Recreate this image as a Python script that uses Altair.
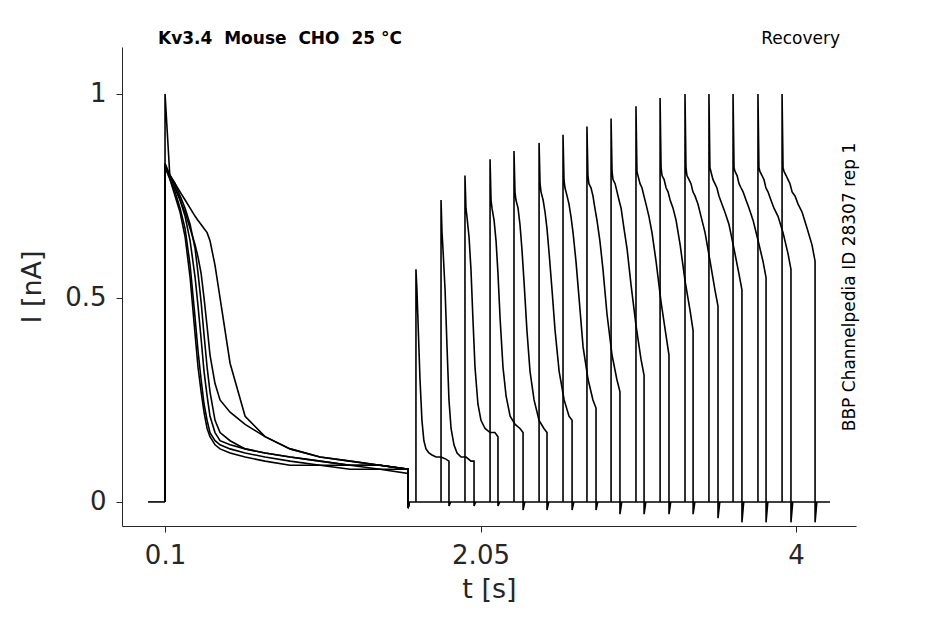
import pandas as pd
import altair as alt

# time of the first-pulse sample points (s)
first_t = [0.100, 0.131, 0.162, 0.193, 0.224, 0.255, 0.286, 0.304, 0.323, 0.341, 0.360,
           0.378, 0.409, 0.440, 0.502, 0.595, 0.718, 0.873, 1.058, 1.244, 1.429, 1.602]
first_traces = [
    [1.00, 0.79, 0.76, 0.72, 0.67, 0.58, 0.45, 0.37, 0.30, 0.24, 0.20, 0.17, 0.15, 0.14, 0.13, 0.12, 0.11, 0.10, 0.09, 0.09, 0.08, 0.08],
    [0.82, 0.80, 0.77, 0.74, 0.70, 0.64, 0.55, 0.48, 0.40, 0.32, 0.26, 0.21, 0.17, 0.15, 0.14, 0.13, 0.12, 0.11, 0.10, 0.09, 0.09, 0.08],
    [0.83, 0.80, 0.78, 0.75, 0.72, 0.68, 0.62, 0.56, 0.49, 0.41, 0.33, 0.27, 0.20, 0.17, 0.15, 0.13, 0.12, 0.11, 0.10, 0.09, 0.09, 0.08],
    [0.82, 0.79, 0.75, 0.71, 0.65, 0.55, 0.41, 0.33, 0.27, 0.22, 0.18, 0.16, 0.14, 0.13, 0.12, 0.11, 0.10, 0.09, 0.09, 0.08, 0.08, 0.07],
    [0.82, 0.80, 0.78, 0.76, 0.74, 0.72, 0.70, 0.69, 0.68, 0.67, 0.66, 0.64, 0.58, 0.50, 0.34, 0.21, 0.16, 0.13, 0.11, 0.10, 0.09, 0.08],
    [0.82, 0.80, 0.77, 0.74, 0.71, 0.67, 0.63, 0.60, 0.56, 0.50, 0.43, 0.36, 0.29, 0.25, 0.22, 0.19, 0.16, 0.13, 0.11, 0.10, 0.09, 0.08],
]

# second pulses: start time, peak, decay values at fixed offsets, end dip
second_start = [1.651, 1.806, 1.954, 2.109, 2.257, 2.412, 2.560, 2.708,
                2.857, 3.011, 3.160, 3.314, 3.462, 3.611, 3.765, 3.914]
second_peak = [0.57, 0.74, 0.80, 0.84, 0.86, 0.88, 0.90, 0.92,
               0.94, 0.97, 0.99, 1.00, 1.00, 1.00, 1.00, 1.00]
offsets = [0.006, 0.012, 0.025, 0.037, 0.049, 0.062, 0.080, 0.099, 0.124, 0.155, 0.185, 0.204]
second_decay = [
    [.52, .45, .30, .20, .15, .13, .12, .115, .11, .11, .105, .10],
    [.66, .62, .52, .38, .25, .18, .14, .12, .11, .11, .10, .10],
    [.72, .70, .65, .57, .45, .33, .24, .20, .18, .17, .17, .16],
    [.74, .72, .69, .64, .56, .45, .33, .26, .21, .19, .18, .17],
    [.76, .74, .72, .68, .62, .54, .42, .32, .25, .20, .18, .17],
    [.78, .76, .74, .71, .67, .61, .52, .42, .32, .25, .21, .20],
    [.79, .77, .75, .73, .70, .66, .59, .50, .38, .30, .25, .23],
    [.80, .78, .77, .75, .72, .69, .64, .57, .46, .36, .30, .27],
    [.81, .79, .78, .76, .74, .72, .67, .62, .53, .43, .35, .31],
    [.81, .80, .78, .77, .75, .73, .70, .66, .59, .49, .41, .36],
    [.82, .80, .79, .77, .76, .74, .72, .69, .63, .54, .47, .42],
    [.82, .80, .79, .78, .76, .75, .73, .70, .66, .59, .52, .48],
    [.82, .81, .79, .78, .77, .75, .73, .71, .68, .62, .56, .52],
    [.82, .81, .80, .78, .77, .76, .74, .72, .69, .64, .59, .55],
    [.82, .81, .80, .79, .77, .76, .74, .72, .70, .66, .61, .57],
    [.82, .81, .80, .79, .78, .76, .75, .73, .71, .67, .63, .59],
]
second_dip = [-0.01, -0.01, -0.01, -0.02, -0.02, -0.02, -0.02, -0.03,
              -0.03, -0.03, -0.03, -0.04, -0.05, -0.05, -0.05, -0.05]

rows = []
def add(trace, pts):
    for k, (t, v) in enumerate(pts):
        rows.append({"trace": trace, "k": k, "t": t, "i": v})

add("base0", [(-0.005, 0.0), (0.1, 0.0)])
add("base1", [(1.602, 0.0), (4.21, 0.0)])
for n, vals in enumerate(first_traces):
    pts = [(0.1, 0.0)] + list(zip(first_t, vals)) + [(1.602, -0.015), (1.61, 0.0)]
    add(f"p1_{n}", pts)
for n, t0 in enumerate(second_start):
    pts = [(t0, 0.0), (t0, second_peak[n])]
    pts += [(t0 + o, v) for o, v in zip(offsets, second_decay[n])]
    pts += [(t0 + 0.204, second_dip[n]), (t0 + 0.215, 0.0)]
    add(f"p2_{n}", pts)
df = pd.DataFrame(rows)

lines = alt.Chart(df).mark_line(color="black", strokeWidth=1.6, clip=True).encode(
    x=alt.X("t:Q", scale=alt.Scale(domain=[-0.166, 4.371], nice=False, zero=False),
            axis=alt.Axis(values=[0.1, 2.05, 4], title="t [s]",
                          labelExpr="datum.value == 4 ? '4' : format(datum.value, '.3~f')")),
    y=alt.Y("i:Q", scale=alt.Scale(domain=[-0.059, 1.115], nice=False, zero=False),
            axis=alt.Axis(values=[0, 0.5, 1], title="I [nA]",
                          labelExpr="format(datum.value, '~g')")),
    detail="trace:N",
    order="k:Q",
)

nb = "\u00a0"
title = alt.Chart(pd.DataFrame({"s": [f"Kv3.4{nb}{nb}Mouse{nb}{nb}CHO{nb}{nb}25 °C"]})).mark_text(
    align="left", fontSize=17, fontWeight="bold", font="DejaVu Sans", baseline="middle"
).encode(text="s:N", x=alt.value(36), y=alt.value(-8))
rec = alt.Chart(pd.DataFrame({"s": ["Recovery"]})).mark_text(
    align="right", fontSize=17, font="DejaVu Sans", baseline="middle"
).encode(text="s:N", x=alt.value(718), y=alt.value(-8))
side = alt.Chart(pd.DataFrame({"s": ["BBP Channelpedia ID 28307 rep 1"]})).mark_text(
    align="center", fontSize=17, font="DejaVu Sans", angle=270, baseline="middle"
).encode(text="s:N", x=alt.value(728), y=alt.value(240))

chart = alt.layer(lines, title, rec, side).properties(
    width=734, height=479, autosize="none",
    padding={"left": 114, "top": 39, "right": 81, "bottom": 98},
).configure_view(stroke=None).configure_axis(
    grid=False, domainColor="#262626", tickColor="#262626", labelColor="#262626",
    titleColor="#262626", labelFontSize=26, titleFontSize=27, titleFontWeight="normal",
    labelFont="DejaVu Sans", titleFont="DejaVu Sans", tickSize=6, labelPadding=10,
).configure_axisY(titlePadding=18).configure_axisX(titlePadding=8)

chart.save("out.html", embed_options={"renderer": "svg", "actions": False})
